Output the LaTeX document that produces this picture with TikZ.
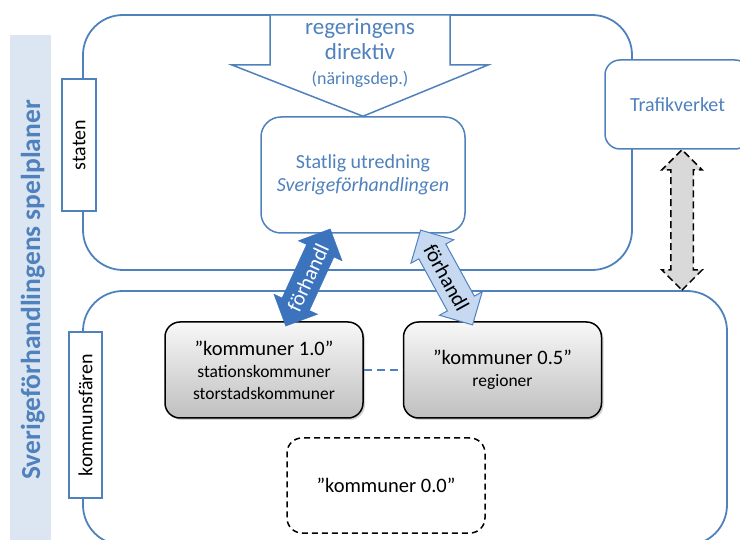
\documentclass[tikz,border=0pt]{standalone}
\usepackage{fontspec}
\setmainfont{Carlito}
\usetikzlibrary{positioning}
\usetikzlibrary{calc}
\usetikzlibrary{shapes.arrows}
\usetikzlibrary{shadows}
\definecolor{ofblue}{HTML}{4F81BD}
\definecolor{bandblue}{HTML}{DCE6F2}
\definecolor{darkarrow}{HTML}{3B73BC}
\definecolor{lightarrow}{HTML}{C6D9F1}
\definecolor{dashgray}{HTML}{D9D9D9}
\newcommand{\armarrow}[4]{%
  \path let \p1=(#2), \p2=(#3), \n1={atan2(\y2-\y1,\x2-\x1)}, \n2={veclen(\x2-\x1,\y2-\y1)} in
    node[#1, rotate=\n1, minimum height=\n2] at ($(#2)!0.5!(#3)$) {#4};}
\newcommand{\subline}{\fontsize{17.5}{20.5}\selectfont}

\begin{document}
\begin{tikzpicture}[x=1pt,y=-1pt,
    sphere/.style={draw=ofblue,line width=1.8pt,rounded corners=40pt,inner sep=0pt},
    sidelabel/.style={draw=ofblue,line width=1.5pt,fill=white,rotate=90,inner sep=0pt,font=\fontsize{20}{24}\selectfont},
    bluebox/.style={draw=ofblue,line width=1.5pt,fill=white,rounded corners=#1,align=center,text=ofblue,font=\fontsize{20}{23}\selectfont},
    bluebox/.default=15pt,
    kombox/.style={draw=black,line width=1.5pt,rounded corners=15pt,minimum width=198pt,minimum height=96pt,align=center,font=\fontsize{20.5}{22}\selectfont},
    gradbox/.style={kombox,top color=gray!6,bottom color=gray!50,drop shadow={opacity=0.35,shadow xshift=2pt,shadow yshift=-2pt}},
    forh/.style={double arrow,double arrow head extend=9pt,double arrow tip angle=90,inner xsep=2pt,inner ysep=7.5pt,font=\fontsize{21}{22}\selectfont},
    darkforh/.style={forh,fill=darkarrow,draw=darkarrow,text=white},
    lightforh/.style={forh,fill=lightarrow,draw=ofblue,line width=1pt,text=black},
    tvarrow/.style={double arrow,double arrow head extend=9pt,double arrow tip angle=90,inner sep=10.5pt,draw=black,dash pattern=on 7pt off 4pt,line width=1.5pt,fill=dashgray}
  ]
  \useasboundingbox (0,0) rectangle (740,540);
  \clip (0,0) rectangle (740,540);

  \node (band) [fill=bandblue,rotate=90,minimum width=510pt,minimum height=41pt,inner sep=0pt,text=ofblue,text depth=0pt,font=\fontsize{27.5}{30}\selectfont\bfseries] at (30.5,290) {Sverigeförhandlingens spelplaner};

  \node (staten) [sphere,minimum width=549pt,minimum height=255pt] at (357.5,142.5) {};
  \node (kommun) [sphere,minimum width=644pt,minimum height=254pt] at (405,418) {};

  \node (statenlabel) [sidelabel,minimum width=132pt,minimum height=34pt] at (79,145) {staten};
  \node (kommunlabel) [sidelabel,minimum width=166pt,minimum height=33pt] at (85.5,415) {kommunsfären};

  \node (utredning) [bluebox=20pt,minimum width=204pt,minimum height=116pt] at (363,175) {Statlig utredning\\\textit{Sverigeförhandlingen}};
  \draw[draw=ofblue,line width=1.5pt,fill=white,line join=miter]
    (270,15) -- (270,65) -- (232,65) -- (utredning.north) -- (488,65) -- (450,65) -- (450,15) -- cycle;
  \node (direktiv) [align=center,text=ofblue,font=\fontsize{23}{25}\selectfont] at (360,53)
    {regeringens\\direktiv\\\fontsize{18}{25}\selectfont(näringsdep.)};

  \node (trafik) [bluebox,minimum width=145pt,minimum height=89pt] at (677.5,104.5) {Trafikverket};

  \node (k10) [gradbox] at (264,370) {”kommuner 1.0”\\\subline stationskommuner\\\subline storstadskommuner};
  \node (k05) [gradbox,right=39pt of k10] {”kommuner 0.5”\\\subline regioner};
  \node (k00) [kombox,dash pattern=on 6pt off 4pt,fill=white,minimum height=95pt] at (386,485.5) {”kommuner 0.0”};
  \draw[ofblue,dash pattern=on 8pt off 5pt,line width=2pt] (k10.east) -- (k05.west);

  \coordinate (dk1) at ($(k10.north west)!0.62!(k10.north east)$);
  \coordinate (dk2) at ($(utredning.south west)!0.33!(utredning.south east)$);
  \coordinate (lt1) at ($(utredning.south west)!0.79!(utredning.south east)$);
  \coordinate (lt2) at ($(k05.north west)!0.34!(k05.north east)$);
  \coordinate (tv1) at ($(trafik.south)+(4.5,0)$);
  \coordinate (tv2) at (tv1 |- kommun.north);

  \armarrow{darkforh,name=forh1}{dk1}{dk2}{förhandl}
  \armarrow{lightforh,name=forh2}{lt1}{lt2}{förhandl}
  \armarrow{tvarrow,name=tvforh}{tv1}{tv2}{}
\end{tikzpicture}
\end{document}
